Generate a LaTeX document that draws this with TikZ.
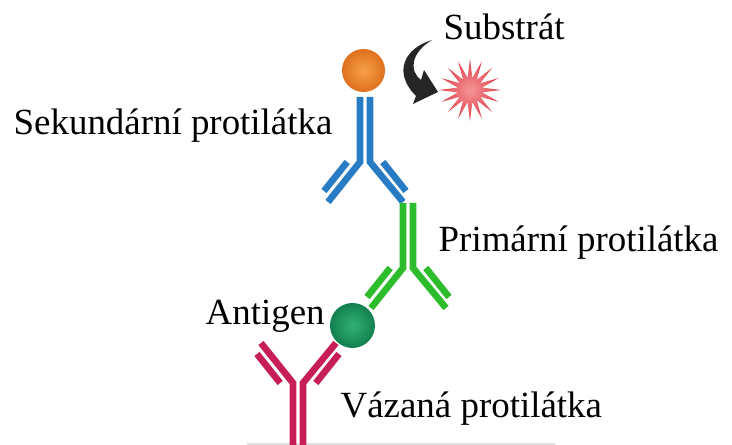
\documentclass[tikz,border=0pt]{standalone}
\usepackage{fontspec}
\setmainfont{Liberation Serif}
\usetikzlibrary{shapes.geometric}

\definecolor{abblue}{RGB}{40,124,196}
\definecolor{abgreen}{RGB}{44,188,44}
\definecolor{abred}{RGB}{200,30,88}

\begin{document}
\begin{tikzpicture}[
    label/.style={anchor=base west,inner sep=0pt,font=\fontsize{10.5}{12}\selectfont},
    chain/.style={line width=1.9pt,line cap=butt,line join=miter},
    antibody/.pic={
        \draw[chain] (-0.05,0.65) -- (-0.05,0) -- (-0.37,-0.40);
        \draw[chain] (0.05,0.65) -- (0.05,0) -- (0.38,-0.40);
        \draw[chain] (-0.178,0) -- (-0.41,-0.29);
        \draw[chain] (0.178,0) -- (0.41,-0.29);
    }]
            \useasboundingbox (0,0) rectangle (7.32,4.45);

            % surface
            \draw[gray!25,line width=0.6pt] (2.47,0.01) -- (5.55,0.01);

            % antibodies
            \pic[color=abblue] at (3.65,2.83) {antibody};
            \pic[color=abgreen] at (4.08,1.77) {antibody};
            \pic[color=abred,yscale=-1] at (2.98,0.62) {antibody};

            % enzyme, substrate, antigen
            \node[circle,minimum size=0.43cm,inner sep=0pt,
                  inner color={rgb,255:red,246;green,160;blue,72},
                  outer color={rgb,255:red,222;green,112;blue,30}] (enzyme) at (3.635,3.745) {};
            \node[star,star points=16,star point ratio=2.5,minimum size=0.62cm,inner sep=0pt,
                  inner color={rgb,255:red,245;green,150;blue,150},
                  outer color={rgb,255:red,222;green,62;blue,76}] (substrate) at (4.70,3.55) {};
            \node[circle,minimum size=0.45cm,inner sep=0pt,
                  inner color={rgb,255:red,50;green,178;blue,116},
                  outer color={rgb,255:red,18;green,128;blue,78}] (antigen) at (3.525,1.195) {};

            % reaction arrow
            \fill[black!85] (4.32,4.05) .. controls (4.05,3.97) and (3.92,3.73) .. (4.16,3.49)
                -- (4.13,3.41) -- (4.38,3.53) -- (4.24,3.75) -- (4.21,3.65)
                .. controls (4.08,3.75) and (4.12,3.93) .. (4.32,4.05);

            \node[label] (substr) at (4.43,4.05) {Substrát};
            \node[label] (sekund) at (0.13,3.10) {Sekundární protilátka};
            \node[label] (primar) at (4.38,1.93) {Primární protilátka};
            \node[label] (antig) at (2.05,1.20) {Antigen};
            \node[label] (vazana) at (3.40,0.27) {Vázaná protilátka};
            \end{tikzpicture}
\end{document}
